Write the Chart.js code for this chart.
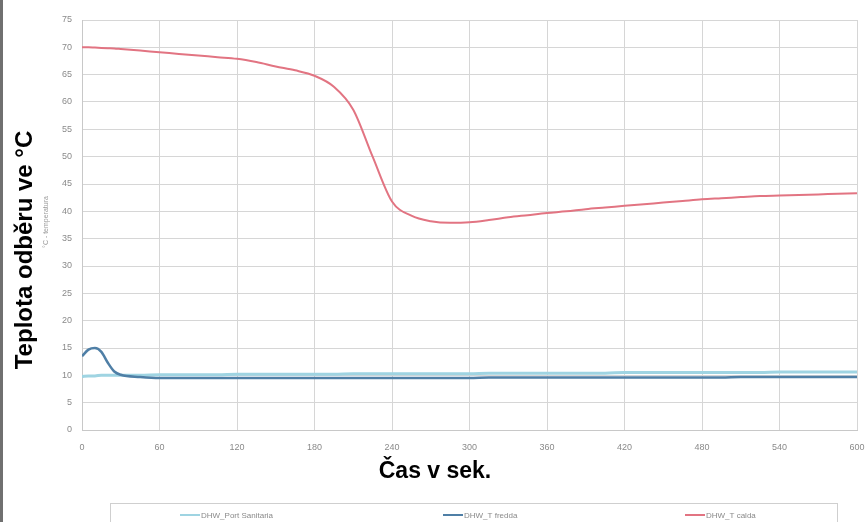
<!DOCTYPE html>
<html>
<head>
<meta charset="utf-8">
<script src="https://cdn.jsdelivr.net/npm/chart.js@4"></script>
<style>
html, body { margin: 0; padding: 0; background: #fff; }
</style>
</head>
<body>
<canvas id="myChart" width="865" height="522"></canvas>
<script>
// time in seconds
const times = [0, 5, 10, 15, 20, 25, 30, 45, 60, 75, 90, 105, 120, 135, 150, 165, 180, 195, 210, 225,
    240, 255, 270, 285, 300, 315, 330, 345, 360, 375, 390, 405, 420, 435, 450, 465, 480, 495, 510, 525,
    540, 555, 570, 585, 600];

const portSanitaria = [9.8, 9.9, 9.9, 10.0, 10.0, 10.0, 10.0, 10.0, 10.1, 10.1, 10.1, 10.1, 10.2, 10.2, 10.2, 10.2, 10.2, 10.2, 10.3, 10.3,
    10.3, 10.3, 10.3, 10.3, 10.3, 10.4, 10.4, 10.4, 10.4, 10.4, 10.4, 10.4, 10.5, 10.5, 10.5, 10.5, 10.5, 10.5, 10.5, 10.5,
    10.6, 10.6, 10.6, 10.6, 10.6];

const tFredda = [13.5, 14.7, 15.0, 14.3, 12.3, 10.7, 10.1, 9.7, 9.5, 9.5, 9.5, 9.5, 9.5, 9.5, 9.5, 9.5, 9.5, 9.5, 9.5, 9.5,
    9.5, 9.5, 9.5, 9.5, 9.5, 9.6, 9.6, 9.6, 9.6, 9.6, 9.6, 9.6, 9.6, 9.6, 9.6, 9.6, 9.6, 9.6, 9.7, 9.7,
    9.7, 9.7, 9.7, 9.7, 9.7];

const tCalda = [70.0, 70.0, 69.95, 69.9, 69.85, 69.8, 69.7, 69.4, 69.1, 68.8, 68.5, 68.2, 67.9, 67.3, 66.5, 65.8, 64.8, 62.8, 58.6, 50.0,
    41.8, 39.2, 38.2, 37.9, 38.0, 38.4, 38.9, 39.3, 39.7, 40.0, 40.4, 40.7, 41.0, 41.3, 41.6, 41.9, 42.2, 42.4, 42.6, 42.8,
    42.9, 43.0, 43.1, 43.2, 43.3];

const seriesLabels = ['DHW_Port Sanitaria', 'DHW_T fredda', 'DHW_T calda'];
const seriesColors = ['#9fd4e2', '#4f7fa6', '#e27482'];

const yTitle = 'Teplota odběru ve °C';
const ySubTitle = '°C - temperatura';
const xTitle = 'Čas v sek.';

function toPoints(values) {
    return values.map(function (v, i) { return { x: times[i], y: v }; });
}

// titles, legend and left frame drawn by hand
const decor = {
    id: 'decor',
    beforeDraw: function (chart) {
        const ctx = chart.ctx;
        ctx.save();
        ctx.fillStyle = '#fff';
        ctx.fillRect(0, 0, chart.width, chart.height);
        ctx.restore();
    },
    afterDraw: function (chart) {
        const ctx = chart.ctx;
        ctx.save();

        ctx.fillStyle = '#707070';
        ctx.fillRect(0, 0, 3, chart.height);

        ctx.fillStyle = '#000';
        ctx.font = 'bold 24px "Liberation Sans", Arial, sans-serif';
        ctx.textAlign = 'center';
        ctx.textBaseline = 'middle';
        ctx.save();
        ctx.translate(25, 250);
        ctx.rotate(-Math.PI / 2);
        ctx.fillText(yTitle, 0, 0);
        ctx.restore();

        ctx.save();
        ctx.fillStyle = '#9a9a9a';
        ctx.font = '7px "Liberation Sans", Arial, sans-serif';
        ctx.translate(46, 222);
        ctx.rotate(-Math.PI / 2);
        ctx.fillText(ySubTitle, 0, 0);
        ctx.restore();

        ctx.font = 'bold 23px "Liberation Sans", Arial, sans-serif';
        ctx.fillText(xTitle, 435, 472);

        // legend box
        ctx.strokeStyle = '#cfcfcf';
        ctx.lineWidth = 1;
        ctx.strokeRect(110.5, 503.5, 727, 30);

        const items = [180, 443, 685];
        ctx.font = '8px "Liberation Sans", Arial, sans-serif';
        ctx.textAlign = 'left';
        chart.data.datasets.forEach(function (ds, i) {
            const x0 = items[i];
            ctx.strokeStyle = ds.borderColor;
            ctx.lineWidth = 2;
            ctx.beginPath();
            ctx.moveTo(x0, 515);
            ctx.lineTo(x0 + 20, 515);
            ctx.stroke();
            ctx.fillStyle = '#8a8a8a';
            ctx.fillText(ds.label, x0 + 21, 516);
        });
        ctx.restore();
    }
};

const config = {
    type: 'line',
    data: {
        datasets: [{
            label: seriesLabels[0],
            data: toPoints(portSanitaria),
            borderColor: seriesColors[0],
            borderWidth: 3,
            order: 3
        }, {
            label: seriesLabels[1],
            data: toPoints(tFredda),
            borderColor: seriesColors[1],
            borderWidth: 2.5,
            order: 2
        }, {
            label: seriesLabels[2],
            data: toPoints(tCalda),
            borderColor: seriesColors[2],
            borderWidth: 2,
            order: 1
        }]
    },
    options: {
        responsive: false,
        animation: false,
        elements: {
            point: { radius: 0 },
            line: { cubicInterpolationMode: 'monotone', fill: false }
        },
        layout: {
            autoPadding: false,
            padding: { top: 20, right: 8, bottom: 0, left: 0 }
        },
        plugins: {
            legend: { display: false },
            tooltip: { enabled: false }
        },
        scales: {
            x: {
                type: 'linear',
                min: 0,
                max: 600,
                afterFit: function (s) {
                    s.height = 92;
                    s.paddingLeft = 0;
                    s.paddingRight = 0;
                },
                ticks: {
                    stepSize: 60,
                    color: '#8a8a8a',
                    padding: 12,
                    maxRotation: 0,
                    font: { size: 9, family: '"Liberation Sans", Arial, sans-serif' }
                },
                grid: { color: '#d6d6d6', drawTicks: false },
                border: { color: '#c8c8c8' }
            },
            y: {
                min: 0,
                max: 75,
                afterFit: function (s) {
                    s.width = 82;
                    s.paddingTop = 0;
                    s.paddingBottom = 0;
                },
                ticks: {
                    stepSize: 5,
                    color: '#8a8a8a',
                    padding: 10,
                    font: { size: 9, family: '"Liberation Sans", Arial, sans-serif' }
                },
                grid: { color: '#d6d6d6', drawTicks: false },
                border: { color: '#c8c8c8' }
            }
        }
    },
    plugins: [decor]
};

const myChart = new Chart(document.getElementById('myChart'), config);
</script>
</body>
</html>
